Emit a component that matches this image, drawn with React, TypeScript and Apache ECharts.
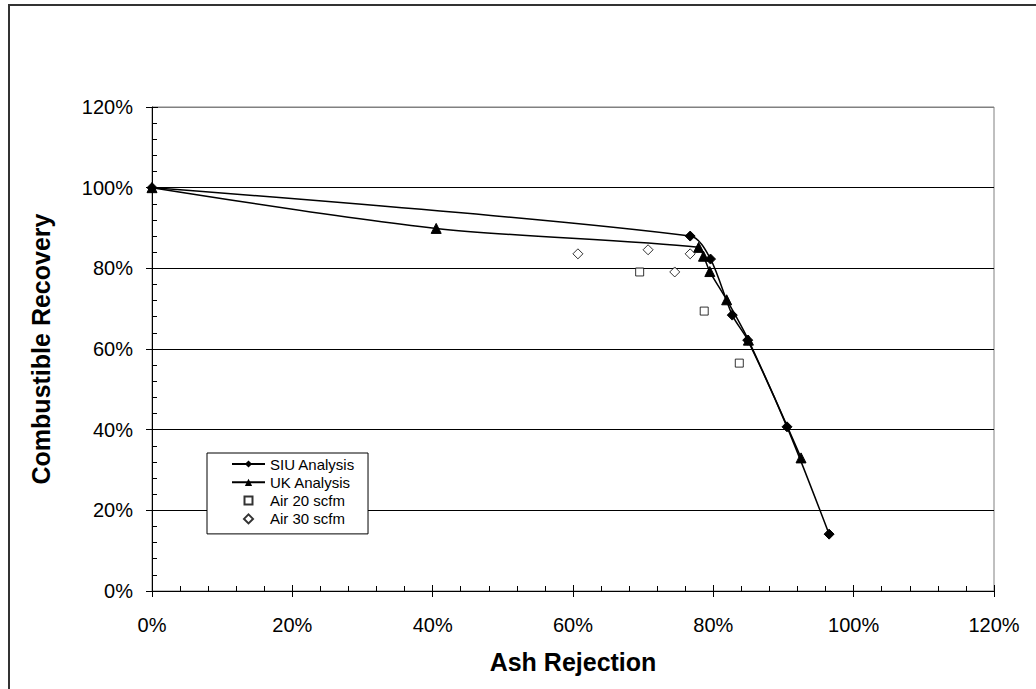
import React, { useEffect, useRef } from "react";
import * as echarts from "echarts";

const siuData: number[][] = [[0, 100], [76.7, 88], [79.6, 82.3], [82.7, 68.4], [84.9, 62.2], [90.5, 40.7], [96.5, 14.1]];
const ukData: number[][] = [[0, 100], [40.5, 89.9], [77.9, 85.2], [78.6, 83], [79.5, 79.2], [81.9, 72.2], [85.0, 62.2], [92.5, 33]];
const air20Data: number[][] = [[69.5, 79.1], [78.7, 69.4], [83.7, 56.5]];
const air30Data: number[][] = [[60.7, 83.6], [70.7, 84.6], [74.5, 79.1], [76.7, 83.6]];
const seriesNames = ["SIU Analysis", "UK Analysis", "Air 20 scfm", "Air 30 scfm"];
const xTitle = "Ash Rejection";
const yTitle = "Combustible Recovery";

const FONT = 'Arial, "Liberation Sans", sans-serif';

// legend icons padded to the full 33x9 item box so they are not stretched
const squareIcon = "path://M0,0L0,0M33,9L33,9M12.5,0.5L20.5,0.5L20.5,8.5L12.5,8.5Z";
const diamondIcon = "path://M0,0L0,0M33,9L33,9M16.5,0L21,4.5L16.5,9L12,4.5Z";

export default function App() {
  const ref = useRef<HTMLDivElement>(null);
  useEffect(() => {
    if (!ref.current) return;
    const chart = echarts.init(ref.current, undefined, { renderer: "svg" });
    const pct = (v: number) => `${Math.round(v)}%`;
    const baseX = {
      type: "value" as const,
      min: 0,
      max: 120,
      interval: 20,
      position: "bottom" as const,
    };
    const baseY = {
      type: "value" as const,
      min: 0,
      max: 120,
      interval: 20,
      position: "left" as const,
    };
    chart.setOption({
      animation: false,
      backgroundColor: "#ffffff",
      textStyle: { fontFamily: FONT },
      grid: {
        left: 152,
        right: 42,
        top: 107,
        bottom: 98,
        show: true,
        borderColor: "#808080",
        borderWidth: 1,
        backgroundColor: "transparent",
      },
      graphic: [
        {
          type: "rect",
          shape: { x: 9, y: 5, width: 1200, height: 900 },
          style: { fill: "none", stroke: "#333", lineWidth: 2 },
          silent: true,
          z: -10,
        },
      ],
      legend: {
        orient: "vertical",
        left: 207,
        top: 453,
        backgroundColor: "#fff",
        borderColor: "#000",
        borderWidth: 1,
        padding: [3.5, 13, 7.5, 24],
        itemWidth: 33,
        itemHeight: 9,
        itemGap: 3.3,
        textStyle: { fontSize: 15, lineHeight: 15, color: "#000", fontFamily: FONT },
        data: [
          { name: seriesNames[0] },
          { name: seriesNames[1] },
          { name: seriesNames[2], icon: squareIcon },
          { name: seriesNames[3], icon: diamondIcon },
        ],
        z: 10,
      },
      xAxis: [
        {
          ...baseX,
          name: xTitle,
          nameLocation: "middle",
          nameGap: 58,
          nameTextStyle: { fontSize: 25, fontWeight: "bold", color: "#000", fontFamily: FONT },
          axisLine: { show: true, lineStyle: { color: "#000", width: 1 } },
          axisTick: { show: true, inside: true, length: 6, lineStyle: { color: "#000" } },
          minorTick: { show: true, splitNumber: 5, length: 5, lineStyle: { color: "#000" } },
          splitLine: { show: false },
          axisLabel: { formatter: pct, fontSize: 20, color: "#000", margin: 24, fontFamily: FONT },
        },
        {
          ...baseX,
          axisLine: { show: false },
          axisTick: { show: true, inside: false, length: 6, lineStyle: { color: "#000" } },
          axisLabel: { show: false },
          splitLine: { show: false },
        },
      ],
      yAxis: [
        {
          ...baseY,
          name: yTitle,
          nameLocation: "middle",
          nameGap: 99,
          nameTextStyle: { fontSize: 25, fontWeight: "bold", color: "#000", fontFamily: FONT },
          axisLine: { show: true, lineStyle: { color: "#000", width: 1 } },
          axisTick: { show: true, inside: true, length: 6, lineStyle: { color: "#000" } },
          minorTick: { show: true, splitNumber: 5, length: 5, lineStyle: { color: "#000" } },
          splitLine: {
            show: true,
            lineStyle: {
              color: ["#000", "#000", "#000", "#000", "#000", "#000", "#808080"],
              width: 1,
            },
          },
          axisLabel: { formatter: pct, fontSize: 20, color: "#000", margin: 19, fontFamily: FONT },
        },
        {
          ...baseY,
          axisLine: { show: false },
          axisTick: { show: true, inside: false, length: 6, lineStyle: { color: "#000" } },
          axisLabel: { show: false },
          splitLine: { show: false },
        },
      ],
      series: [
        {
          name: seriesNames[0],
          type: "line",
          data: siuData,
          smooth: 0.3,
          symbol: "diamond",
          symbolSize: 10,
          lineStyle: { color: "#000", width: 1.5 },
          itemStyle: { color: "#000", borderColor: "#000" },
          z: 3,
        },
        {
          name: seriesNames[1],
          type: "line",
          data: ukData,
          smooth: 0.3,
          symbol: "triangle",
          symbolSize: 10,
          lineStyle: { color: "#000", width: 1.5 },
          itemStyle: { color: "#000", borderColor: "#000" },
          z: 3,
        },
        {
          name: seriesNames[2],
          type: "scatter",
          data: air20Data,
          symbol: "rect",
          symbolSize: 8,
          itemStyle: { color: "#fff", borderColor: "#000", borderWidth: 1 },
          z: 4,
        },
        {
          name: seriesNames[3],
          type: "scatter",
          data: air30Data,
          symbol: "diamond",
          symbolSize: 10,
          itemStyle: { color: "#fff", borderColor: "#000", borderWidth: 1 },
          z: 4,
        },
      ],
    });
    return () => chart.dispose();
  }, []);
  return (
    <div
      ref={ref}
      style={{ position: "fixed", left: 0, top: 0, width: 1036, height: 689, background: "#fff" }}
    />
  );
}
